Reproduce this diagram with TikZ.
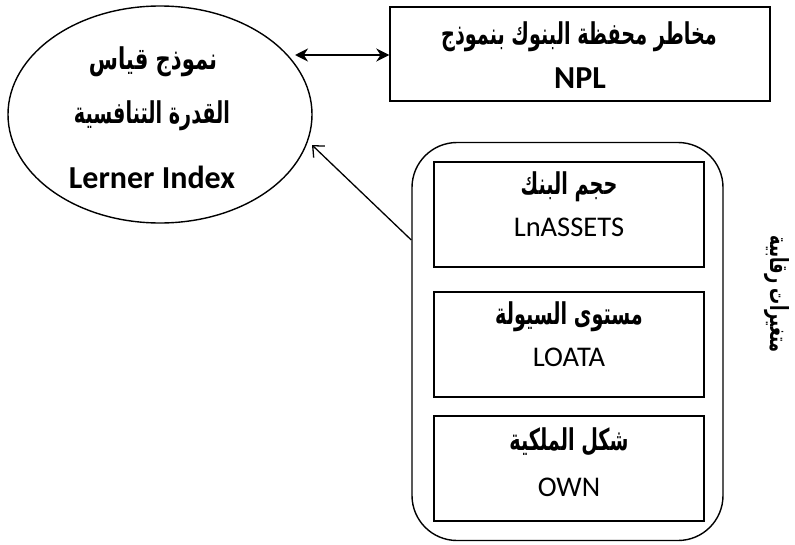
\documentclass[tikz,border=0pt]{standalone}
\usepackage{fontspec}
\setmainfont{Carlito}
\newfontfamily\arabicfont[Script=Arabic]{DejaVu Sans}
\TeXXeTstate=1
\usetikzlibrary{shapes.geometric,arrows.meta}
\newcommand{\artext}[1]{\scalebox{0.8}[1.25]{\beginR #1\endR}}
\tikzset{
  shape line/.style={draw, line width=1.4pt},
  arab/.style={font=\arabicfont\bfseries\fontsize{24}{28}\selectfont, inner sep=0pt},
  latinb/.style={font=\bfseries\fontsize{32}{36}\selectfont, inner sep=0pt},
  latin/.style={font=\fontsize{28.5}{32}\selectfont, inner sep=0pt},
  varbox/.style={shape line, rectangle, minimum width=270, minimum height=105, inner sep=0pt},
}
\begin{document}
\begin{tikzpicture}[x=1pt,y=-1pt]
\useasboundingbox (0,0) rectangle (795,544);
% ellipse
\node[shape line, ellipse, minimum width=304, minimum height=217, inner sep=0pt] (model) at (160,114.5) {};
\node[arab] (m1) at (153,62) {\scalebox{0.88}[1.25]{\beginR نموذج قياس\endR}};
\node[arab] (m2) at (152,116) {\artext{القدرة التنافسية}};
\node[latinb] (m3) at (152,177) {Lerner Index};
% NPL box
\node[shape line, rectangle, minimum width=380, minimum height=94, inner sep=0pt] (npl) at (580,54) {};
\node[arab] (n1) at (579,37) {\artext{مخاطر محفظة البنوك بنموذج}};
\node[latinb] (n2) at (580,78) {NPL};
% double arrow
\coordinate (da) at (295,55);
\draw[line width=2pt, {Stealth[length=13pt,width=13pt]}-{Stealth[length=13pt,width=13pt]}] (da) -- (npl.west |- da);
% rounded container
\node[shape line, rectangle, rounded corners=45pt, minimum width=311, minimum height=398, inner sep=0pt] (ctrl) at (567.5,341.5) {};
\node[varbox] (b1) at (569,214.5) {};
\node[arab] (t1) at (569,187) {\artext{حجم البنك}};
\node[latin] (s1) at (569,227) {LnASSETS};
\node[varbox] (b2) at (569,344.5) {};
\node[arab] (t2) at (569,317) {\artext{مستوى السيولة}};
\node[latin] (s2) at (569,357) {LOATA};
\node[varbox] (b3) at (569,468.5) {};
\node[arab] (t3) at (569,442) {\artext{شكل الملكية}};
\node[latin] (s3) at (569,487) {OWN};
% arrow to ellipse
\coordinate (tip) at (312,145);
\draw[line width=1.3pt, -{Straight Barb[length=9pt,width=16pt]}] (ctrl.west |- 0,240) -- (tip);
% vertical label
\node[arab, rotate=-90, font=\arabicfont\bfseries\fontsize{20}{23}\selectfont] (lbl) at (777,294) {\artext{متغيرات رقابية}};
\end{tikzpicture}
\end{document}
